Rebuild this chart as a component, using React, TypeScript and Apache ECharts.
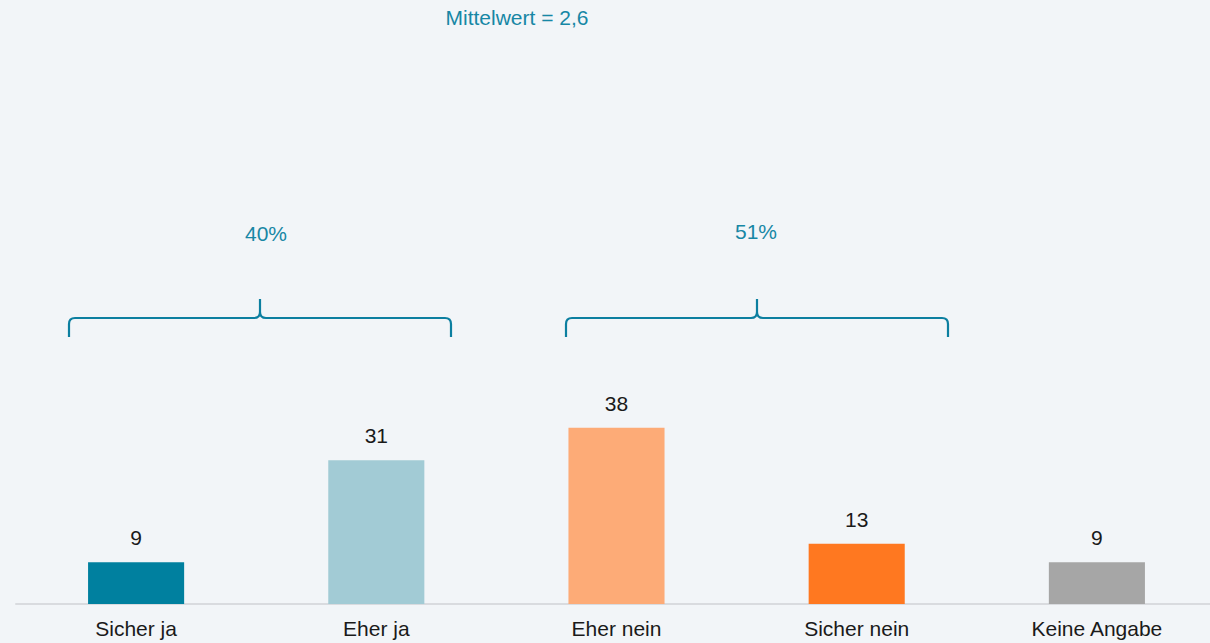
import React, { useEffect, useRef } from "react";
import * as echarts from "echarts";

const categories = ["Sicher ja", "Eher ja", "Eher nein", "Sicher nein", "Keine Angabe"];
const values = [9, 31, 38, 13, 9];
const barColors = ["#00809f", "#a2cbd5", "#fdab77", "#ff7820", "#a6a6a6"];
const groupLabels = ["40%", "51%"];
const meanLabel = "Mittelwert = 2,6";

const FONT = 'Arial, "Liberation Sans", sans-serif';
const TEAL_TEXT = "#1787a5";
const TEAL_LINE = "#0c7fa0";

const braceD =
  "M0,39 L0,26 Q0,20 6,20 L185,20 Q191,20 191,14 L191,1 M191,14 Q191,20 197,20 L376,20 Q382,20 382,26 L382,39";

let registered = false;

export default function App() {
  const ref = useRef<HTMLDivElement>(null);
  useEffect(() => {
    if (!ref.current) return;
    if (!registered) {
      echarts.graphic.registerShape("brace", echarts.graphic.extendPath(braceD, {}) as any);
      registered = true;
    }
    const chart = echarts.init(ref.current, null, { renderer: "svg" });
    chart.setOption({
      animation: false,
      backgroundColor: "#f2f5f8",
      grid: { left: 16, right: 5, top: 140, bottom: 39, containLabel: false },
      xAxis: {
        type: "category",
        data: categories,
        axisLine: { show: true, lineStyle: { color: "#d9dbdf", width: 2 } },
        axisTick: { show: false },
        axisLabel: { interval: 0, color: "#1a1a1a", fontSize: 21, fontFamily: FONT, margin: 14 },
      },
      yAxis: { type: "value", min: 0, max: 100, show: false, splitLine: { show: false } },
      series: [
        {
          type: "bar",
          barWidth: "40%",
          data: values.map((v, i) => ({ value: v, itemStyle: { color: barColors[i] } })),
          label: {
            show: true,
            position: "top",
            distance: 14,
            color: "#1a1a1a",
            fontSize: 21,
            fontFamily: FONT,
          },
        },
      ],
      graphic: [
        {
          type: "text",
          x: 517,
          y: 17,
          style: { text: meanLabel, fill: TEAL_TEXT, font: `21px ${FONT}`, textAlign: "center", textVerticalAlign: "middle" },
        },
        {
          type: "text",
          x: 266,
          y: 233,
          style: { text: groupLabels[0], fill: TEAL_TEXT, font: `21px ${FONT}`, textAlign: "center", textVerticalAlign: "middle" },
        },
        {
          type: "text",
          x: 756,
          y: 231,
          style: { text: groupLabels[1], fill: TEAL_TEXT, font: `21px ${FONT}`, textAlign: "center", textVerticalAlign: "middle" },
        },
        {
          type: "brace",
          x: 69,
          y: 298,
          style: { fill: "none", stroke: TEAL_LINE, lineWidth: 2.2 },
        },
        {
          type: "brace",
          x: 566,
          y: 298,
          style: { fill: "none", stroke: TEAL_LINE, lineWidth: 2.2 },
        },
      ],
    });
    return () => chart.dispose();
  }, []);
  return (
    <div style={{ position: "absolute", left: 0, top: 0, width: 1210, height: 643, overflow: "hidden", background: "#f2f5f8" }}>
      <div ref={ref} style={{ width: 1222, height: 643 }} />
    </div>
  );
}
